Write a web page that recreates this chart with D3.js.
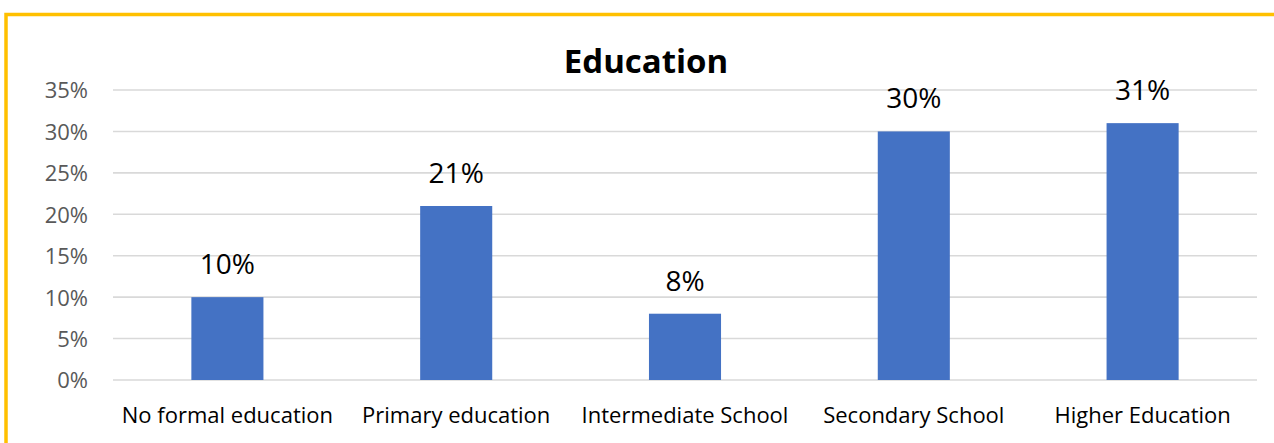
<!DOCTYPE html>
<html>
<head>
<meta charset="utf-8">
<script src="https://cdn.jsdelivr.net/npm/d3@7"></script>
<style>
  html, body { margin: 0; padding: 0; background: #fff; }
  svg { display: block; }
</style>
</head>
<body>
<svg id="chart" width="1274" height="443"></svg>
<script>
// Education level shares
const categories = ["No formal education", "Primary education", "Intermediate School", "Secondary School", "Higher Education"];
const shares = [0.10, 0.21, 0.08, 0.30, 0.31];
const yTicks = [0, 0.05, 0.10, 0.15, 0.20, 0.25, 0.30, 0.35];
const chartTitle = "Education";

const W = 1274, H = 443;
const plot = { left: 113, right: 1257, top: 90, bottom: 380 };
const font = "'Open Sans', 'Noto Sans', sans-serif";

const svg = d3.select("#chart");

// frame accent along the top and left edges
svg.append("path")
  .attr("d", d3.line()([[6, H], [6, 14.5], [W, 14.5]]))
  .attr("fill", "none")
  .attr("stroke", "#FFC000")
  .attr("stroke-width", 3.5);

const x = d3.scaleBand().domain(categories).range([plot.left, plot.right]).padding(0);
const y = d3.scaleLinear().domain([0, 0.35]).range([plot.bottom, plot.top]);
const pct = d3.format(".0%");
const barW = x.bandwidth() * 0.315;

// horizontal gridlines
svg.append("g")
  .selectAll("line")
  .data(yTicks)
  .join("line")
  .attr("x1", plot.left).attr("x2", plot.right)
  .attr("y1", d => y(d)).attr("y2", d => y(d))
  .attr("stroke", "#d9d9d9")
  .attr("stroke-width", 1.6);

// y axis labels
const yAxis = d3.axisLeft(y).tickValues(yTicks).tickFormat(pct).tickSize(0).tickPadding(0);
const yg = svg.append("g").attr("transform", "translate(88,0)").call(yAxis);
yg.select(".domain").remove();
yg.selectAll("text")
  .attr("font-family", font)
  .attr("font-size", 22)
  .attr("fill", "#595959")
  .attr("dy", "0.36em");

// bars
svg.append("g")
  .selectAll("rect")
  .data(shares)
  .join("rect")
  .attr("x", (d, i) => x(categories[i]) + x.bandwidth() / 2 - barW / 2)
  .attr("width", barW)
  .attr("y", d => y(d))
  .attr("height", d => y(0) - y(d))
  .attr("fill", "#4472C4");

// value labels
svg.append("g")
  .selectAll("text")
  .data(shares)
  .join("text")
  .attr("x", (d, i) => x(categories[i]) + x.bandwidth() / 2)
  .attr("y", d => y(d) - 23)
  .attr("text-anchor", "middle")
  .attr("font-family", font)
  .attr("font-size", 28)
  .attr("fill", "#000")
  .text(d => pct(d));

// category axis labels
const xAxis = d3.axisBottom(x).tickSize(0).tickPadding(0);
const xg = svg.append("g").attr("transform", "translate(0,423)").call(xAxis);
xg.select(".domain").remove();
xg.selectAll("text")
  .attr("font-family", font)
  .attr("font-size", 22)
  .attr("fill", "#000")
  .attr("dy", 0)
  .attr("y", 0);

// title
svg.append("text")
  .attr("x", 646)
  .attr("y", 73)
  .attr("text-anchor", "middle")
  .attr("font-family", font)
  .attr("font-weight", "bold")
  .attr("font-size", 33)
  .attr("fill", "#000")
  .text(chartTitle);
</script>
</body>
</html>
